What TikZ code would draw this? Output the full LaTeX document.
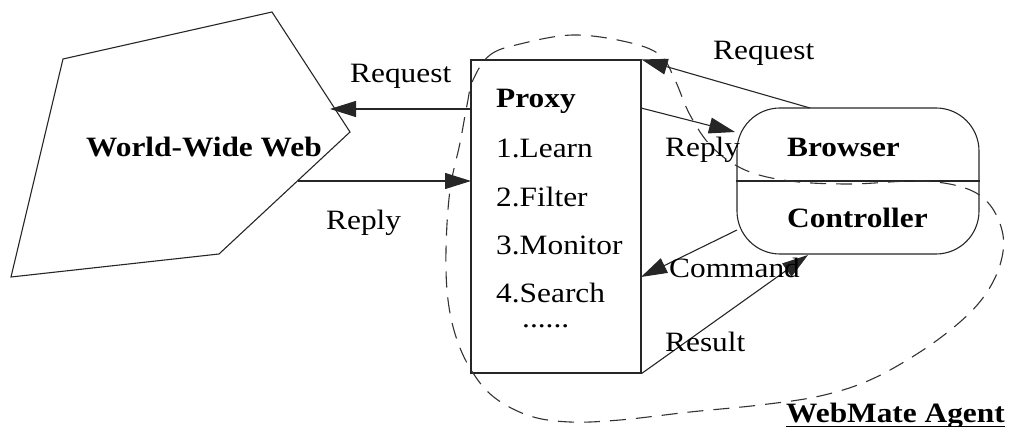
\documentclass[tikz,border=0pt]{standalone}
\usepackage{fontspec}
\setmainfont{Liberation Serif}[FakeStretch=1.12]
\usetikzlibrary{arrows.meta,calc}
\tikzset{
  lbl/.style={inner sep=0pt, anchor=base west, font=\fontsize{28}{30}\selectfont},
  blbl/.style={lbl, font=\fontsize{28}{30}\selectfont\bfseries},
  conn/.style={draw=black!85, line width=1.1pt, -{Triangle[length=26pt,width=16pt]}},
  shapeline/.style={draw=black!85, line width=1.1pt},
  agentline/.style={draw=black!80, line width=1.1pt, dash pattern=on 16pt off 10pt}
}
\begin{document}
\begin{tikzpicture}[x=1pt,y=-1pt]
\useasboundingbox (0,0) rectangle (1012,427);
% World-Wide Web pentagon
\coordinate (w1) at (63,59);
\coordinate (w2) at (272,12);
\coordinate (w3) at (350,132);
\coordinate (w4) at (219,254);
\coordinate (w5) at (11,277);
\draw[shapeline] (w1) -- (w2) -- (w3) -- (w4) -- (w5) -- cycle;
\node[blbl] (www) at (86,157) {World-Wide Web};
% Proxy box
\node[shapeline, rectangle, minimum width=170pt, minimum height=313pt, inner sep=0pt] (proxy) at (556,216.5) {};
\node[blbl] (ptitle) at (496,108) {Proxy};
\node[lbl] (p1) at (496,158) {1.Learn};
\node[lbl] (p2) at (496,207) {2.Filter};
\node[lbl] (p3) at (496,255) {3.Monitor};
\node[lbl] (p4) at (496,303) {4.Search};
\node[lbl] (p5) at (522,328) {\smash{......}};
% Browser / Controller
\node[shapeline, rectangle, rounded corners=43pt, minimum width=242pt, minimum height=146pt, inner sep=0pt] (bc) at (858,181) {};
\draw[shapeline] (bc.west) -- (bc.east);
\node[blbl] (browser) at (787,157) {Browser};
\node[blbl] (controller) at (787,228) {Controller};
% dashed agent boundary
\draw[agentline] plot[smooth cycle, tension=0.6] coordinates {
 (473,80) (490,55) (520,44) (573,35) (627,42) (660,55) (675,80) (690,115)
 (712,147) (745,170) (790,181) (850,184) (920,181) (965,188) (990,205)
 (1003,235) (1000,265) (985,295) (960,322) (920,352) (870,380) (820,396)
 (760,405) (690,412) (620,420) (570,422) (530,416) (495,398) (473,373)
 (457,340) (448,300) (446,250) (450,190) (460,143) (467,105)};
% connector ports
\coordinate (pReqOut) at (471,109);
\coordinate (wReqIn) at (330,109);
\coordinate (wRepOut) at (298,181);
\coordinate (pRepIn) at (471,181);
\coordinate (bReqOut) at (810,108);
\coordinate (pRepOut) at (641,108);
\coordinate (bRepIn) at (735,132);
\coordinate (cCmdOut) at (737,230);
\coordinate (pCmdIn) at (641,277);
\coordinate (cResIn) at (808,255);
% connectors
\draw[conn] (pReqOut) -- (wReqIn);
\draw[conn] (wRepOut) -- (pRepIn);
\draw[conn] (bReqOut) -- (proxy.north east);
\draw[conn] (pRepOut) -- (bRepIn);
\draw[conn] (cCmdOut) -- (pCmdIn);
\draw[conn] (proxy.south east) -- (cResIn);
% labels
\node[lbl] (lreq1) at (350,83) {Request};
\node[lbl] (lrep1) at (326,230) {Reply};
\node[lbl] (lreq2) at (713,60) {Request};
\node[lbl] (lrep2) at (665,157) {Reply};
\node[lbl] (lcmd) at (669,278) {Command};
\node[lbl] (lres) at (665,352) {Result};
\node[blbl] (agent) at (786,422) {WebMate Agent};
\draw[black, line width=1pt] ($(agent.base west)+(0,4)$) -- ($(agent.base east)+(0,4)$);
\end{tikzpicture}
\end{document}
